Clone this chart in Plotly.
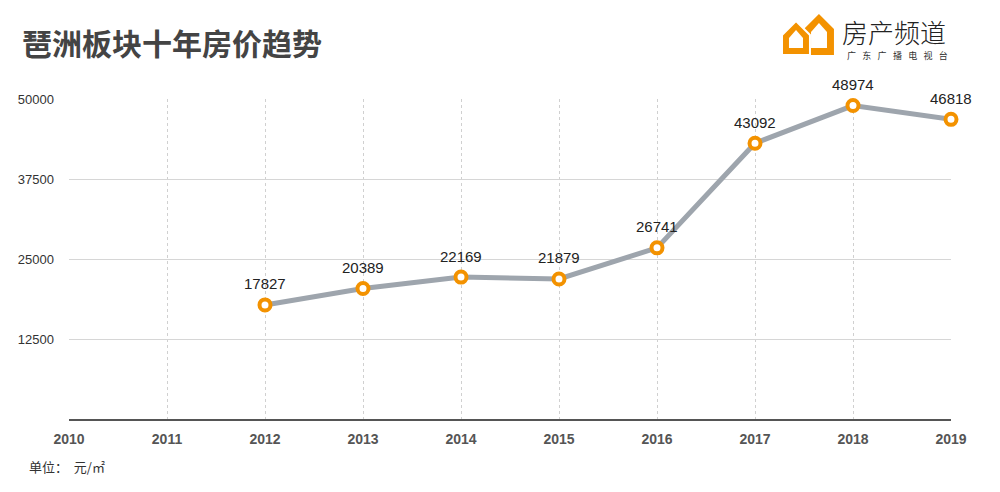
import plotly.graph_objects as go

years = [2012, 2013, 2014, 2015, 2016, 2017, 2018, 2019]
prices = [17827, 20389, 22169, 21879, 26741, 43092, 48974, 46818]
x_ticks = list(range(2010, 2020))
y_ticks = [12500, 25000, 37500, 50000]

title = "琶洲板块十年房价趋势"
unit_text = "单位：  元/㎡"
brand = "房产频道"
brand_sub = "\u2002\u2009".join("广东广播电视台")

ORANGE = "#F39200"
fig = go.Figure()
fig.add_trace(go.Scatter(
    x=years, y=prices, mode="lines+markers",
    line=dict(color="#9EA5AD", width=5),
    marker=dict(size=11, color="white", line=dict(color=ORANGE, width=4)),
    cliponaxis=False, hoverinfo="skip",
))

W, H = 1000, 492
L, R, T, B = 69, 951, 99, 419
fig.update_layout(
    width=W, height=H, paper_bgcolor="white", plot_bgcolor="white",
    margin=dict(l=L, r=W - R, t=T, b=H - B), showlegend=False,
    font=dict(family="Liberation Sans, Arial"),
)
fig.update_xaxes(
    range=[2010, 2019], tickvals=x_ticks, ticktext=[str(t) for t in x_ticks],
    showgrid=True, gridcolor="#d0d0d0", griddash="dot", gridwidth=1,
    showline=True, linecolor="#555", linewidth=2, zeroline=False,
    tickfont=dict(size=14, color="#555", weight="bold"), ticks="", ticklabelstandoff=6,
)
fig.update_yaxes(
    range=[0, 50000], tickvals=y_ticks, ticktext=[str(t) for t in y_ticks],
    showgrid=True, gridcolor="#d6d6d6", gridwidth=1, zeroline=False,
    showline=False, ticks="", tickfont=dict(size=13, color="#333"),
    ticklabelstandoff=14,
)

def px(x):
    return (x - L) / (R - L)
def py(y):
    return (B - y) / (B - T)

def path(pts):
    return "M " + " L ".join(f"{px(a):.4f},{py(b):.4f}" for a, b in pts) + " Z"

shapes = []
# right house
shapes.append(dict(type="path", xref="paper", yref="paper",
                   path=path([(804, 55), (804, 29), (819, 14), (834, 29), (834, 55)]),
                   fillcolor=ORANGE, line=dict(width=0)))
shapes.append(dict(type="path", xref="paper", yref="paper",
                   path=path([(811, 48), (811, 32), (819, 23), (827, 32), (827, 48)]),
                   fillcolor="white", line=dict(width=0)))
# left house (with white separation)
shapes.append(dict(type="path", xref="paper", yref="paper",
                   path=path([(782, 55), (782, 35), (796, 21), (810, 35), (810, 55)]),
                   fillcolor=ORANGE, line=dict(color="white", width=2)))
shapes.append(dict(type="path", xref="paper", yref="paper",
                   path=path([(789, 48), (789, 38), (796, 30), (803, 38), (803, 48)]),
                   fillcolor="white", line=dict(width=0)))
fig.update_layout(shapes=shapes)

ann = [
    dict(text=title, x=px(20), y=py(42), xref="paper", yref="paper", xanchor="left",
         yanchor="middle", showarrow=False,
         font=dict(family="Noto Sans CJK SC", size=30, color="#444", weight="bold")),
    dict(text=unit_text, x=px(27), y=py(466), xref="paper", yref="paper", xanchor="left",
         yanchor="middle", showarrow=False,
         font=dict(family="Noto Sans CJK SC", size=13, color="#333")),
    dict(text=brand, x=px(841), y=py(31), xref="paper", yref="paper", xanchor="left",
         yanchor="middle", showarrow=False, borderpad=0,
         font=dict(family="Noto Sans CJK SC", size=26, color="#222", weight=300)),
    dict(text=brand_sub, x=px(846), y=py(55), xref="paper", yref="paper",
         xanchor="left", yanchor="middle", showarrow=False, borderpad=0,
         font=dict(family="Noto Sans CJK SC", size=9, color="#333")),
]
for yr, v in zip(years, prices):
    ann.append(dict(text=str(v), x=yr, y=v, xref="x", yref="y", showarrow=False,
                    yshift=21, xanchor="center", yanchor="middle",
                    font=dict(family="Liberation Sans, Arial", size=15, color="#222")))
fig.update_layout(annotations=ann)

fig.write_html("out.html")
